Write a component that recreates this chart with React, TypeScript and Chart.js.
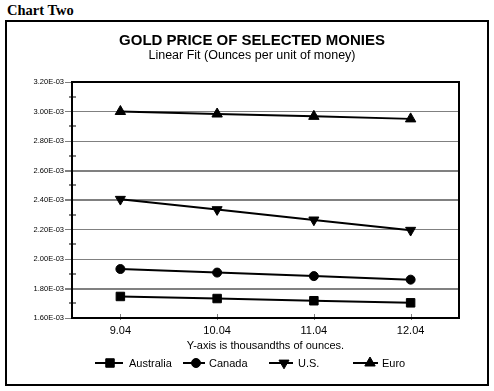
import React, { useEffect, useRef } from 'react';
import { Chart, registerables } from 'chart.js';

Chart.register(...registerables);

// ---- data ----
const categories = ['9.04', '10.04', '11.04', '12.04'];
const seriesNames = ['Australia', 'Canada', 'U.S.', 'Euro'];
const australia = [1.746e-3, 1.732e-3, 1.717e-3, 1.703e-3];
const canada = [1.932e-3, 1.908e-3, 1.884e-3, 1.86e-3];
const us = [2.405e-3, 2.335e-3, 2.265e-3, 2.195e-3];
const euro = [3.0e-3, 2.983e-3, 2.967e-3, 2.95e-3];
const yTickLabels = ['1.60E-03', '1.80E-03', '2.00E-03', '2.20E-03', '2.40E-03', '2.60E-03', '2.80E-03', '3.00E-03', '3.20E-03'];
const yMin = 1.6e-3;
const yMax = 3.2e-3;
const yStep = 0.2e-3;

const FONT = "'Liberation Sans', Arial, Helvetica, sans-serif";

// ---- layout for the custom legend ----
const legendY = 363;
const legendLineStart = [95, 183, 269, 353];
const legendLineEnd = [123, 205, 293, 378];
const legendMarkerX = [110, 196, 284, 370];
const legendTextX = [129, 209, 298, 382];

function drawMarker(ctx: CanvasRenderingContext2D, style: string, x: number, y: number, r: number, rotation: number) {
  ctx.beginPath();
  if (style === 'rect') {
    const s = r * Math.SQRT1_2;
    ctx.rect(x - s, y - s, 2 * s, 2 * s);
  } else if (style === 'circle') {
    ctx.arc(x, y, r, 0, Math.PI * 2);
  } else {
    let a = (rotation * Math.PI) / 180;
    for (let k = 0; k < 3; k++) {
      const px = x + Math.sin(a) * r;
      const py = y - Math.cos(a) * r;
      if (k === 0) ctx.moveTo(px, py);
      else ctx.lineTo(px, py);
      a += (2 * Math.PI) / 3;
    }
  }
  ctx.closePath();
  ctx.fill();
  ctx.stroke();
}

const framePlugin = {
  id: 'framePlugin',
  beforeDatasetsDraw(chart: any) {
    const { ctx, chartArea } = chart;
    const ys = chart.scales.y;
    const xs = chart.scales.x;
    ctx.save();
    // minor ticks on y axis
    ctx.strokeStyle = '#808080';
    ctx.lineWidth = 2;
    for (let i = 0; i < yTickLabels.length - 1; i++) {
      const v = yMin + yStep * (i + 0.5);
      const py = Math.round(ys.getPixelForValue(v));
      ctx.beginPath();
      ctx.moveTo(chartArea.left - 3, py);
      ctx.lineTo(chartArea.left + 4, py);
      ctx.stroke();
    }
    // x ticks crossing the axis
    ctx.lineWidth = 1;
    for (let i = 0; i < categories.length; i++) {
      const px = Math.round(xs.getPixelForValue(i)) + 0.5;
      ctx.beginPath();
      ctx.moveTo(px, chartArea.bottom - 4);
      ctx.lineTo(px, chartArea.bottom + 2);
      ctx.stroke();
    }
    // black plot box
    ctx.strokeStyle = '#000';
    ctx.lineWidth = 2;
    ctx.strokeRect(chartArea.left, chartArea.top, chartArea.right - chartArea.left, chartArea.bottom - chartArea.top);
    ctx.restore();
  },
  afterDraw(chart: any) {
    const { ctx } = chart;
    ctx.save();
    chart.data.datasets.forEach((ds: any, i: number) => {
      ctx.strokeStyle = '#000';
      ctx.fillStyle = '#000';
      ctx.lineWidth = 2;
      ctx.beginPath();
      ctx.moveTo(legendLineStart[i], legendY);
      ctx.lineTo(legendLineEnd[i], legendY);
      ctx.stroke();
      ctx.lineWidth = 1;
      drawMarker(ctx, ds.pointStyle, legendMarkerX[i], legendY, ds.pointRadius, ds.pointRotation || 0);
      ctx.font = `11px ${FONT}`;
      ctx.textBaseline = 'middle';
      ctx.textAlign = 'left';
      ctx.fillText(ds.label, legendTextX[i], legendY + 0.5);
    });
    ctx.restore();
  },
};

export default function App() {
  const ref = useRef<HTMLCanvasElement | null>(null);

  useEffect(() => {
    if (!ref.current) return;
    const mk = (i: number, values: number[], style: string, radius: number, rotation = 0) => ({
      label: seriesNames[i],
      data: values,
      borderColor: '#000',
      backgroundColor: '#000',
      borderWidth: 2,
      pointStyle: style,
      pointRadius: radius,
      pointRotation: rotation,
      pointBorderWidth: 1,
      pointBorderColor: '#000',
      pointBackgroundColor: '#000',
      tension: 0,
      fill: false,
      yAxisID: 'y',
    });
    const thick = [1, 4, 5];
    const chart = new Chart(ref.current, {
      type: 'line',
      data: {
        labels: categories,
        datasets: [
          mk(0, australia, 'rect', 6),
          mk(1, canada, 'circle', 4.5),
          mk(2, us, 'triangle', 5.8, 180),
          mk(3, euro, 'triangle', 6),
        ],
      },
      options: {
        animation: false,
        responsive: false,
        devicePixelRatio: 1,
        layout: { padding: { left: 10, right: 0, top: 0, bottom: 37 } },
        plugins: {
          legend: { display: false },
          tooltip: { enabled: false },
          title: {
            display: true,
            text: 'GOLD PRICE OF SELECTED MONIES',
            color: '#000',
            font: { family: FONT, size: 15, weight: 'bold', lineHeight: 1 },
            padding: { top: 33.5, bottom: 0 },
          },
          subtitle: {
            display: true,
            text: 'Linear Fit (Ounces per unit of money)',
            color: '#000',
            font: { family: FONT, size: 12.5, lineHeight: 1 },
            padding: { top: 0.5, bottom: 20.5 },
          },
        },
        scales: {
          x: {
            type: 'category',
            offset: true,
            afterFit: (s: any) => {
              s.height = 36;
            },
            grid: { display: true, drawOnChartArea: false, drawTicks: false },
            border: { display: true, color: '#000', width: 2 },
            ticks: {
              color: '#000',
              font: { family: FONT, size: 11 },
              padding: 6.4,
              maxRotation: 0,
            },
            title: {
              display: true,
              text: 'Y-axis is thousandths of ounces.',
              color: '#000',
              font: { family: FONT, size: 11 },
              padding: { top: 0, bottom: 1.4 },
            },
          },
          y: {
            type: 'linear',
            position: 'left',
            min: yMin,
            max: yMax,
            afterFit: (s: any) => {
              s.width = 62;
            },
            grid: {
              color: '#808080',
              lineWidth: (c: any) => (thick.includes(c.index) ? 2 : 1),
              tickLength: 7,
            },
            border: { display: true, color: '#000', width: 2 },
            ticks: {
              stepSize: yStep,
              color: '#000',
              font: { family: FONT, size: 7.5 },
              padding: 1,
              callback: (_v: any, i: number) => yTickLabels[i],
            },
          },
          yRightSpace: {
            type: 'linear',
            position: 'right',
            afterFit: (s: any) => {
              s.width = 35;
            },
            grid: { display: false, drawTicks: false },
            border: { display: false },
            ticks: { display: false },
          },
        },
      },
      plugins: [framePlugin],
    } as any);
    return () => chart.destroy();
  }, []);

  return (
    <div style={{ position: 'absolute', left: 0, top: 0, width: 494, height: 391, background: '#fff' }}>
      <div
        style={{
          position: 'absolute',
          left: 7,
          top: 3,
          fontFamily: "'Liberation Serif', 'Times New Roman', serif",
          fontWeight: 'bold',
          fontSize: '14.5px',
          lineHeight: 1,
          color: '#000',
          whiteSpace: 'nowrap',
        }}
      >
        Chart Two
      </div>
      <div
        style={{
          position: 'absolute',
          left: 5,
          top: 20,
          width: 484,
          height: 366,
          border: '2px solid #000',
          boxSizing: 'border-box',
        }}
      />
      <canvas ref={ref} width={494} height={391} style={{ position: 'absolute', left: 0, top: 0, width: 494, height: 391 }} />
    </div>
  );
}
